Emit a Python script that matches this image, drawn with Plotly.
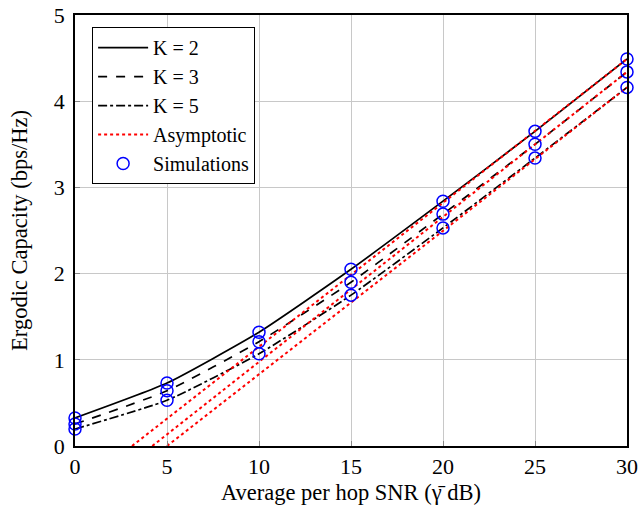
import plotly.graph_objects as go

snr = [0, 5, 10, 15, 20, 25, 30]
cap_k2 = [0.325, 0.73, 1.32, 2.05, 2.84, 3.65, 4.49]
cap_k3 = [0.255, 0.64, 1.21, 1.90, 2.69, 3.50, 4.34]
cap_k5 = [0.197, 0.53, 1.07, 1.75, 2.53, 3.34, 4.16]

# asymptotic lines: (zero crossing, end value at 30 dB)
asym_x = {"K2": [3.1, 30], "K3": [4.2, 30], "K5": [5.0, 30]}
asym_y = {"K2": [0.0, 4.49], "K3": [0.0, 4.34], "K5": [0.0, 4.16]}

sim_x = snr
sim_k2 = cap_k2
sim_k3 = cap_k3
sim_k5 = cap_k5

serif = "Liberation Serif"
fig = go.Figure()

for name, y, dash in [("K = 2", cap_k2, "solid"), ("K = 3", cap_k3, "dash"), ("K = 5", cap_k5, "dashdot")]:
    fig.add_trace(go.Scatter(x=snr, y=y, mode="lines", name=name,
                             line=dict(color="black", width=1.7, dash=dash, shape="spline", smoothing=0.5)))

first = True
for key in ["K2", "K3", "K5"]:
    fig.add_trace(go.Scatter(x=asym_x[key], y=asym_y[key], mode="lines", name="Asymptotic",
                             legendgroup="asym", showlegend=first,
                             line=dict(color="red", width=2, dash="dot")))
    first = False

first = True
for y in [sim_k2, sim_k3, sim_k5]:
    fig.add_trace(go.Scatter(x=sim_x, y=y, mode="markers", name="Simulations",
                             legendgroup="sim", showlegend=first, cliponaxis=False,
                             marker=dict(symbol="circle-open", color="blue", size=12, line=dict(width=1.5))))
    first = False

fig.update_layout(
    width=639, height=519,
    margin=dict(l=75, r=12, t=15, b=73),
    plot_bgcolor="white", paper_bgcolor="white",
    font=dict(family=serif, color="black", size=18),
    legend=dict(x=0.031, y=0.972, xanchor="left", yanchor="top",
                bordercolor="black", borderwidth=1, bgcolor="white",
                font=dict(family=serif, size=20), tracegroupgap=0,
                itemwidth=50),
    xaxis=dict(range=[0, 30], tickvals=[0, 5, 10, 15, 20, 25, 30],
               showgrid=True, gridcolor="#c8c8c8", gridwidth=1,
               showline=True, linecolor="black", linewidth=1.5, mirror=True,
               ticks="inside", ticklen=5, tickcolor="#888888",
               tickfont=dict(size=22), zeroline=False, automargin=False,
               ticklabeloverflow="allow",
               title=dict(text="Average per hop SNR (γ̄ dB)", font=dict(size=22.5), standoff=6)),
    yaxis=dict(range=[0, 5], tickvals=[0, 1, 2, 3, 4, 5],
               showgrid=True, gridcolor="#c8c8c8", gridwidth=1,
               showline=True, linecolor="black", linewidth=1.5, mirror=True,
               ticks="inside", ticklen=5, tickcolor="#888888", ticklabelstandoff=4,
               tickfont=dict(size=22), zeroline=False, automargin=False,
               ticklabeloverflow="allow",
               title=dict(text="Ergodic Capacity (bps/Hz)", font=dict(size=22.5), standoff=20)),
)

fig.write_html("out.html", config={"displayModeBar": False},
               post_script="document.body.style.margin='0';")
